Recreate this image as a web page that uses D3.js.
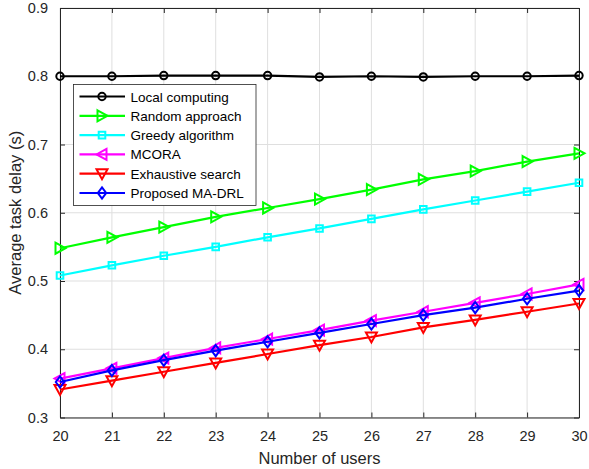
<!DOCTYPE html>
<html>
<head>
<meta charset="utf-8">
<script src="https://cdn.jsdelivr.net/npm/d3@7"></script>
<style>
  html, body { margin: 0; padding: 0; background: #fff; }
  svg { display: block; font-family: "Liberation Sans", Arial, Helvetica, sans-serif; }
</style>
</head>
<body>
<svg id="chart" width="589" height="469"></svg>
<script>
// Number of users on the x axis
const users = [20, 21, 22, 23, 24, 25, 26, 27, 28, 29, 30];

// Average task delay (s) for each scheme
const localComputing = [0.800, 0.800, 0.801, 0.801, 0.801, 0.799, 0.800, 0.799, 0.800, 0.800, 0.801];
const randomApproach = [0.548, 0.564, 0.579, 0.594, 0.607, 0.620, 0.634, 0.649, 0.661, 0.675, 0.687];
const greedyAlgorithm = [0.508, 0.523, 0.537, 0.550, 0.564, 0.577, 0.591, 0.605, 0.618, 0.631, 0.644];
const mcora = [0.357, 0.372, 0.387, 0.402, 0.415, 0.428, 0.442, 0.455, 0.468, 0.481, 0.495];
const exhaustiveSearch = [0.341, 0.354, 0.367, 0.380, 0.393, 0.406, 0.418, 0.432, 0.443, 0.455, 0.467];
const proposedMADRL = [0.352, 0.369, 0.384, 0.398, 0.411, 0.424, 0.437, 0.450, 0.461, 0.474, 0.486];

const xTicks = [20, 21, 22, 23, 24, 25, 26, 27, 28, 29, 30];
const yTicks = [0.3, 0.4, 0.5, 0.6, 0.7, 0.8, 0.9];

const seriesNames = ["Local computing", "Random approach", "Greedy algorithm", "MCORA", "Exhaustive search", "Proposed MA-DRL"];
const seriesColors = ["#000000", "#00ff00", "#00ffff", "#ff00ff", "#ff0000", "#0000ff"];
const seriesMarkers = ["circle", "triRight", "square", "triLeft", "triDown", "diamond"];
const seriesValues = [localComputing, randomApproach, greedyAlgorithm, mcora, exhaustiveSearch, proposedMADRL];

const svg = d3.select("#chart");
const margin = { left: 60, right: 10, top: 8, bottom: 51.5 };
const W = 589, H = 469;
const x = d3.scaleLinear().domain([20, 30]).range([margin.left, W - margin.right]);
const y = d3.scaleLinear().domain([0.3, 0.9]).range([H - margin.bottom, margin.top]);
const axisColor = "#262626";

// grid
const grid = svg.append("g");
grid.selectAll("line.gx").data(xTicks).join("line")
  .attr("x1", d => x(d)).attr("x2", d => x(d))
  .attr("y1", y(0.3)).attr("y2", y(0.9))
  .attr("stroke", "#dfdfdf").attr("stroke-width", 1);
grid.selectAll("line.gy").data(yTicks).join("line")
  .attr("y1", d => y(d)).attr("y2", d => y(d))
  .attr("x1", x(20)).attr("x2", x(30))
  .attr("stroke", "#dfdfdf").attr("stroke-width", 1);

// axes (ticks pointing inward, box on all sides)
function styleAxis(g) {
  g.select(".domain").attr("stroke", axisColor).attr("stroke-width", 1);
  g.selectAll(".tick line").attr("stroke", axisColor);
  g.selectAll(".tick text").attr("fill", axisColor).attr("font-size", 14.5)
    .attr("font-family", "Liberation Sans, Arial, sans-serif");
}
const xAxis = svg.append("g").attr("transform", `translate(0,${y(0.3)})`)
  .call(d3.axisBottom(x).tickValues(xTicks).tickFormat(d3.format("d")).tickSizeInner(-5).tickSizeOuter(0).tickPadding(13));
styleAxis(xAxis);
const xAxisTop = svg.append("g").attr("transform", `translate(0,${y(0.9)})`)
  .call(d3.axisTop(x).tickValues(xTicks).tickFormat("").tickSizeInner(-5).tickSizeOuter(0));
styleAxis(xAxisTop);
const yAxis = svg.append("g").attr("transform", `translate(${x(20)},0)`)
  .call(d3.axisLeft(y).tickValues(yTicks).tickFormat(d3.format(".1f")).tickSizeInner(-5).tickSizeOuter(0).tickPadding(12));
styleAxis(yAxis);
const yAxisRight = svg.append("g").attr("transform", `translate(${x(30)},0)`)
  .call(d3.axisRight(y).tickValues(yTicks).tickFormat("").tickSizeInner(-5).tickSizeOuter(0));
styleAxis(yAxisRight);

// axis labels
svg.append("text").attr("x", (x(20) + x(30)) / 2).attr("y", 464)
  .attr("text-anchor", "middle").attr("font-size", 16.5).attr("fill", axisColor)
  .text("Number of users");
svg.append("text")
  .attr("transform", `translate(21,${(y(0.3) + y(0.9)) / 2}) rotate(-90)`)
  .attr("text-anchor", "middle").attr("font-size", 16.5).attr("fill", axisColor)
  .text("Average task delay (s)");

// marker shapes (sizes in px)
function markerPath(type) {
  switch (type) {
    case "triRight": return "M-4.5,-5.5L5.5,0L-4.5,5.5Z";
    case "triLeft": return "M4.5,-5.5L-5.5,0L4.5,5.5Z";
    case "triDown": return "M-5.5,-4.5L5.5,-4.5L0,5.5Z";
    case "square": return "M-3.3,-3.3H3.3V3.3H-3.3Z";
    case "diamond": return "M0,-5.6L4.2,0L0,5.6L-4.2,0Z";
    default: return null;
  }
}
function drawMarker(g, type, cx, cy, color) {
  if (type === "circle") {
    g.append("circle").attr("cx", cx).attr("cy", cy).attr("r", 3.7)
      .attr("fill", "none").attr("stroke", color).attr("stroke-width", 2);
  } else {
    g.append("path").attr("transform", `translate(${cx},${cy})`)
      .attr("d", markerPath(type))
      .attr("fill", "none").attr("stroke", color).attr("stroke-width", 2)
      .attr("stroke-linejoin", "miter");
  }
}

// series
const line = d3.line().x((d, i) => x(users[i])).y(d => y(d));
const plot = svg.append("g");
seriesValues.forEach((vals, k) => {
  const g = plot.append("g");
  g.append("path").datum(vals).attr("d", line)
    .attr("fill", "none").attr("stroke", seriesColors[k]).attr("stroke-width", 2.2);
  vals.forEach((v, i) => drawMarker(g, seriesMarkers[k], x(users[i]), y(v), seriesColors[k]));
});

// legend
const lg = svg.append("g").attr("transform", "translate(73.5,84.5)");
lg.append("rect").attr("width", 182.5).attr("height", 121)
  .attr("fill", "#fff").attr("stroke", "#262626").attr("stroke-width", 0.8);
seriesNames.forEach((name, k) => {
  const cy = 12 + k * 19.3;
  lg.append("line").attr("x1", 6).attr("x2", 51.5).attr("y1", cy).attr("y2", cy)
    .attr("stroke", seriesColors[k]).attr("stroke-width", 2.2);
  drawMarker(lg, seriesMarkers[k], 28.5, cy, seriesColors[k]);
  lg.append("text").attr("x", 57).attr("y", cy + 5).attr("font-size", 13.5)
    .attr("fill", "#000").text(name);
});
</script>
</body>
</html>
